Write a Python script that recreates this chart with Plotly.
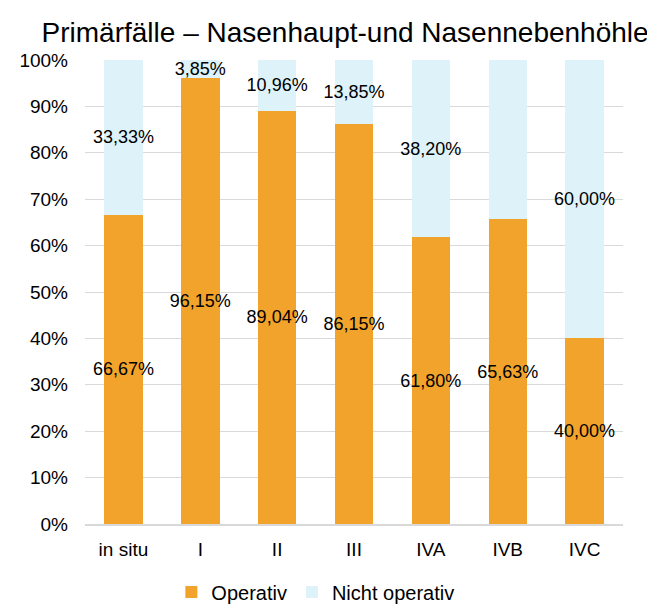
import plotly.graph_objects as go

categories = ["in situ", "I", "II", "III", "IVA", "IVB", "IVC"]
operativ = [66.67, 96.15, 89.04, 86.15, 61.80, 65.63, 40.00]
nicht_operativ = [33.33, 3.85, 10.96, 13.85, 38.20, 34.38, 60.00]
y_ticks = [0, 10, 20, 30, 40, 50, 60, 70, 80, 90, 100]
y_tick_labels = [f"{v}%" for v in y_ticks]

def fmt(v):
    return f"{v:.2f}".replace(".", ",") + "%"

FONT = "Liberation Sans, Arial, sans-serif"

fig = go.Figure()
fig.add_trace(go.Bar(
    x=categories, y=operativ, name="Operativ",
    marker=dict(color="#F2A32B", line=dict(width=0)),
    text=[fmt(v) for v in operativ], textposition="inside",
    insidetextanchor="middle", textangle=0,
    textfont=dict(color="black", size=18, family=FONT),
    constraintext="none", cliponaxis=False,
))
fig.add_trace(go.Bar(
    x=categories, y=nicht_operativ, name="Nicht operativ",
    marker=dict(color="#DDF2F9", line=dict(width=0)),
    text=[fmt(v) for v in nicht_operativ], textposition="inside",
    insidetextanchor="middle", textangle=0,
    textfont=dict(color="black", size=18, family=FONT),
    constraintext="none", cliponaxis=False,
))

fig.update_layout(
    barmode="stack",
    bargap=0.5,
    width=647, height=596,
    margin=dict(l=77, r=32, t=52, b=80),
    paper_bgcolor="white", plot_bgcolor="white",
    font=dict(family=FONT, size=19, color="black"),
    uniformtext=dict(minsize=18, mode="show"),
    title=dict(text="Primärfälle – Nasenhaupt-und Nasennebenhöhle",
               x=0.521, xanchor="center", xref="container",
               y=0.96, yanchor="middle", yref="container",
               font=dict(size=28, family=FONT, color="black")),
    legend=dict(orientation="h", x=0.475, xanchor="center", xref="container",
                y=0.02, yanchor="middle", yref="container",
                font=dict(size=20, family=FONT), itemwidth=30,
                traceorder="normal"),
    showlegend=True,
)
fig.update_xaxes(showgrid=False, showline=True, linecolor="#D9D9D9", linewidth=1.5,
                 ticks="", tickfont=dict(size=19, family=FONT), ticklabelstandoff=7)
fig.update_yaxes(range=[0, 100], tickvals=y_ticks, ticktext=y_tick_labels,
                 showgrid=True, gridcolor="#D9D9D9", gridwidth=1,
                 zeroline=False, showline=False, ticks="",
                 tickfont=dict(size=19, family=FONT), ticklabelstandoff=16)

fig.write_html("out.html")
